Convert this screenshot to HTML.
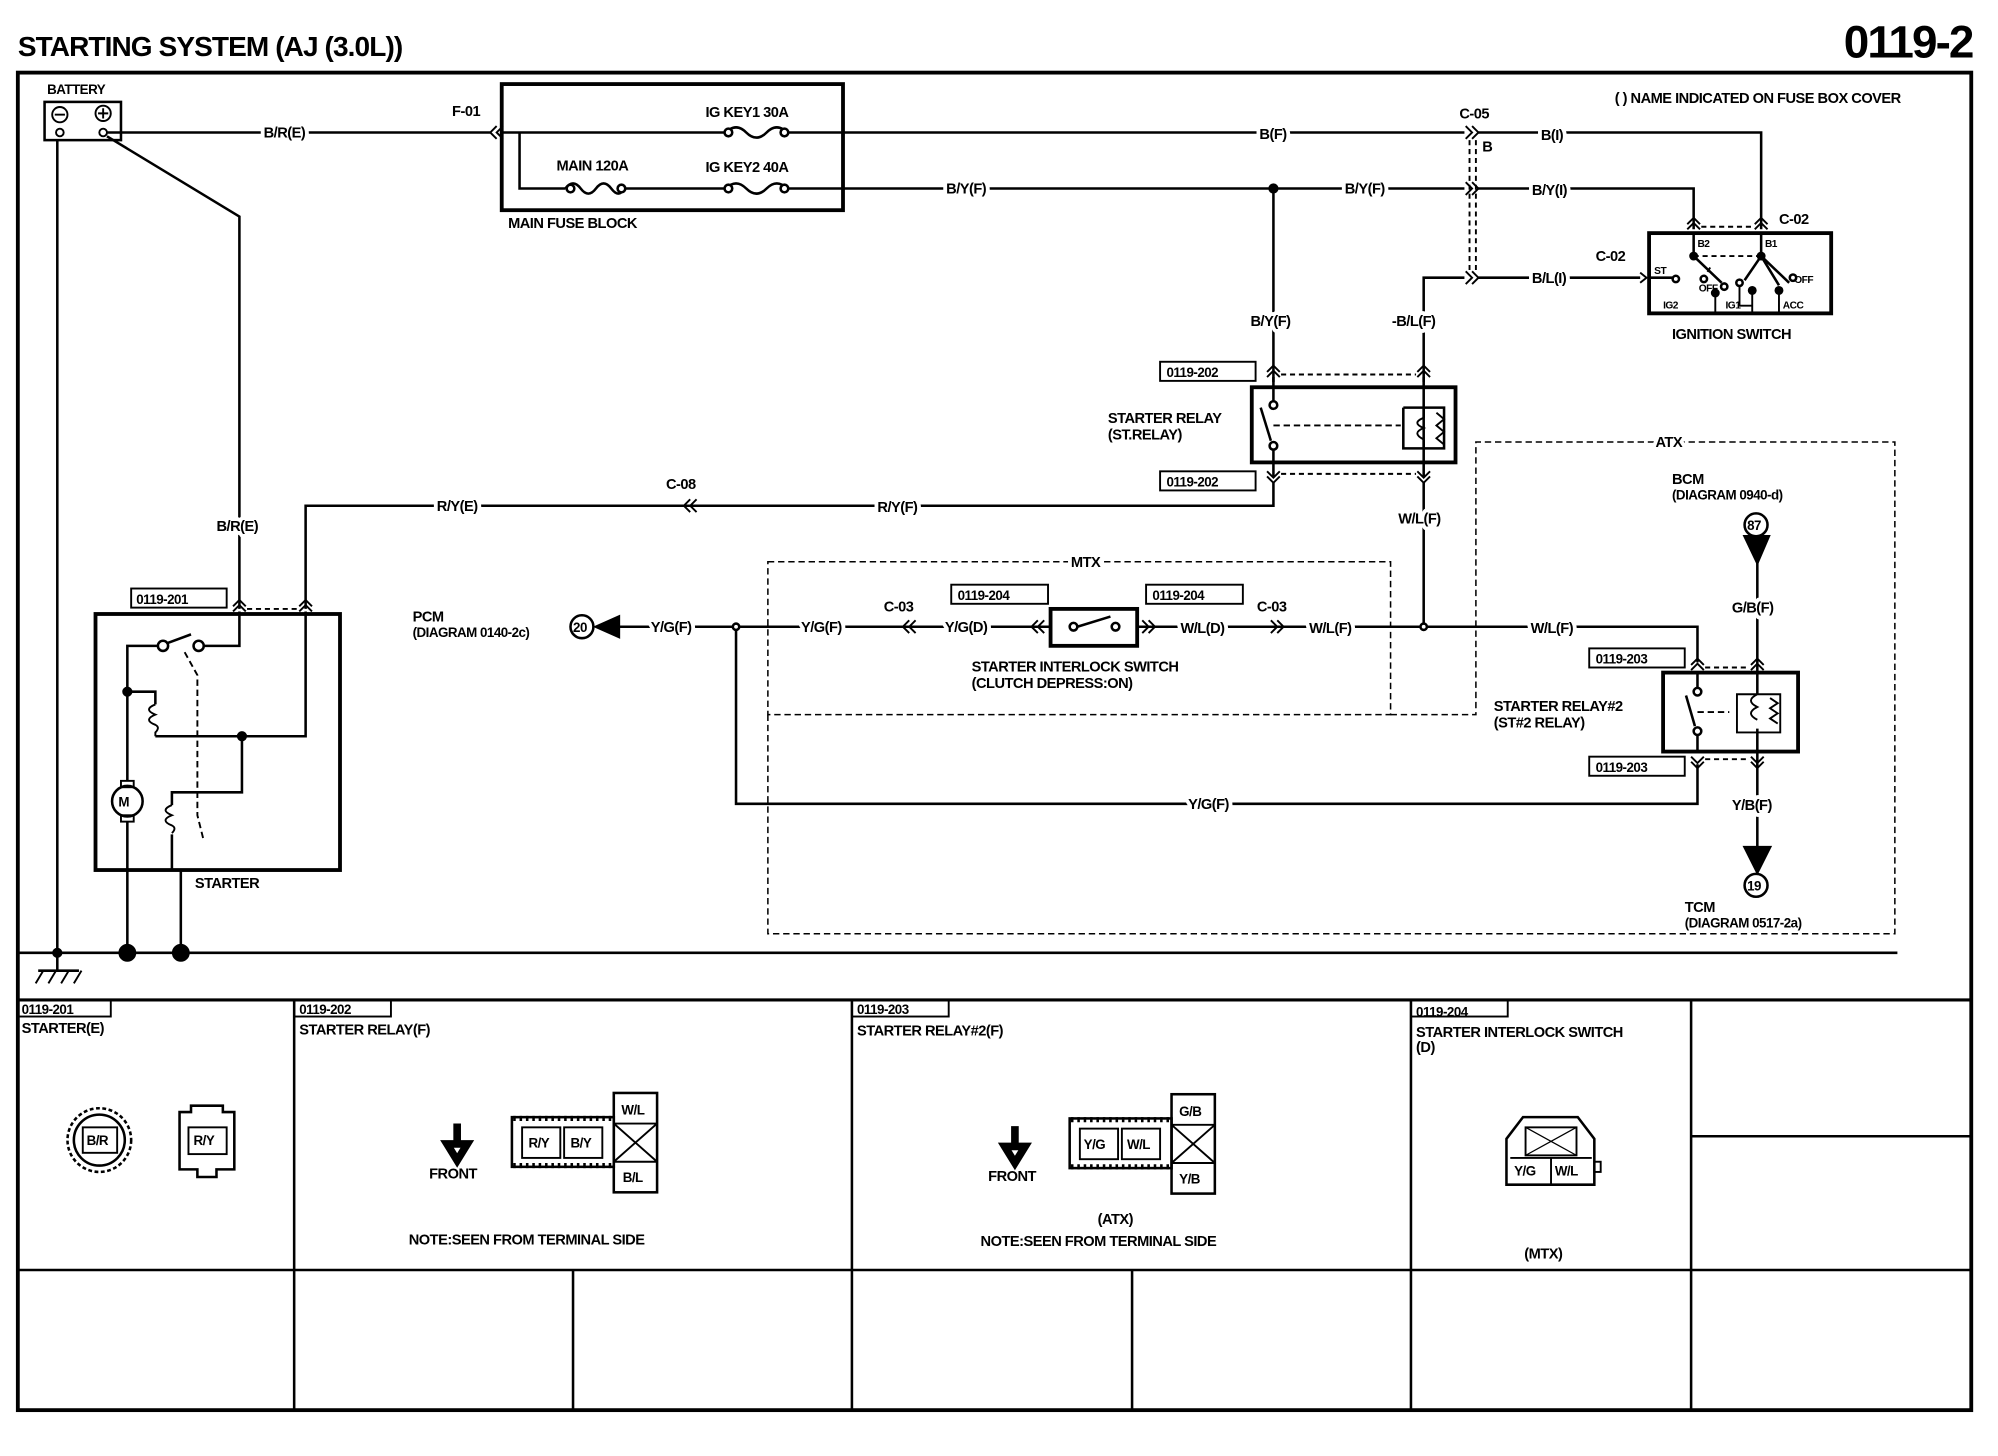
<!DOCTYPE html>
<html><head><meta charset="utf-8"><style>
html,body{margin:0;padding:0;background:#fff;}
svg{display:block}
text{font-family:"Liberation Sans",sans-serif;font-weight:bold;font-size:11.5px;fill:#000;letter-spacing:-0.4px;paint-order:stroke;stroke:#fff;stroke-width:6px;stroke-linejoin:round}
.s{font-size:10.5px;stroke:none}
.xs{font-size:8px;stroke:none}
.n{stroke:none}
</style></head><body>
<svg width="1998" height="1456" viewBox="0 0 1569 1143" preserveAspectRatio="none" xmlns="http://www.w3.org/2000/svg">
<g fill="none" stroke="#000" stroke-width="2">
<rect x="14" y="57" width="1534" height="1050" stroke-width="3"/>
<line x1="14" y1="785" x2="1548" y2="785" stroke-width="2.5"/>
<line x1="14" y1="997" x2="1548" y2="997" stroke-width="2"/>
<line x1="231" y1="785" x2="231" y2="1107"/>
<line x1="669" y1="785" x2="669" y2="1107"/>
<line x1="1108" y1="785" x2="1108" y2="1107"/>
<line x1="1328" y1="785" x2="1328" y2="997"/>
<line x1="1328" y1="892" x2="1548" y2="892"/>
<line x1="450" y1="997" x2="450" y2="1107"/>
<line x1="889" y1="997" x2="889" y2="1107"/>
<line x1="1328" y1="997" x2="1328" y2="1107"/>
<rect x="14" y="785" width="73" height="13" stroke-width="1.5"/>
<rect x="231" y="785" width="76" height="13" stroke-width="1.5"/>
<rect x="669" y="785" width="76" height="13" stroke-width="1.5"/>
<rect x="1108" y="785" width="76" height="13" stroke-width="1.5"/>

<line x1="14" y1="748" x2="1490" y2="748"/>
<line x1="45" y1="110" x2="45" y2="762"/>
<line x1="30" y1="762" x2="62" y2="762"/>
<path d="M34 762 L28 772 M44 762 L38 772 M54 762 L48 772 M64 762 L58 772" stroke-width="1.5"/>
<circle cx="45" cy="748" r="3" fill="#000"/>
<circle cx="100" cy="748" r="6" fill="#000"/>
<circle cx="142" cy="748" r="6" fill="#000"/>
<line x1="100" y1="683" x2="100" y2="748"/>
<line x1="142" y1="683" x2="142" y2="748"/>

<rect x="35" y="80" width="60" height="30"/>
<circle cx="47" cy="90" r="6" stroke-width="1.5"/>
<line x1="43" y1="90" x2="51" y2="90" stroke-width="1.5"/>
<circle cx="81" cy="89" r="6" stroke-width="1.5"/>
<path d="M77 89 H85 M81 85 V93" stroke-width="1.5"/>
<circle cx="47" cy="104" r="3" stroke-width="1.5"/>
<circle cx="81" cy="104" r="3" stroke-width="1.5"/>
<line x1="84" y1="104" x2="385" y2="104"/>
<path d="M84 107 L188 170 L188 478"/>
<path d="M390 99 L385 104 L390 109 M395 99 L390 104 L395 109" stroke-width="1.5"/>

<rect x="394" y="66" width="268" height="99" stroke-width="3"/>
<path d="M395 104 H570 M408 104 V148 H444"/>
<path d="M444 148 q6 -8 12 0 t12 0 t12 0 t10 0" stroke-width="2"/>
<circle cx="448" cy="148" r="3" fill="#fff"/><circle cx="488" cy="148" r="3" fill="#fff"/>
<path d="M490 148 H570"/>
<path d="M570 104 q8 -8 16 0 t16 0 t16 0" /><circle cx="572" cy="104" r="3" fill="#fff"/><circle cx="616" cy="104" r="3" fill="#fff"/>
<path d="M570 148 q8 -8 16 0 t16 0 t16 0" /><circle cx="572" cy="148" r="3" fill="#fff"/><circle cx="616" cy="148" r="3" fill="#fff"/>
<path d="M619 104 H1150 M619 148 H1150"/>
<circle cx="1000" cy="148" r="3" fill="#000"/>
<path d="M1000 148 V300"/>
<path d="M1151 99 L1156 104 L1151 109 M1156 99 L1161 104 L1156 109" stroke-width="1.5"/>
<path d="M1151 143 L1156 148 L1151 153 M1156 143 L1161 148 L1156 153" stroke-width="1.5"/>
<path d="M1151 213 L1156 218 L1151 223 M1156 213 L1161 218 L1156 223" stroke-width="1.5"/>
<path d="M1154 110 V212 M1159 110 V212" stroke-dasharray="4 3" stroke-width="1.5"/>
<path d="M1161 104 H1383 V180 M1161 148 H1330 V180 M1161 218 H1288 M1150 218 H1118 V300"/>
<path d="M1288 214 L1293 218 L1288 222" stroke-width="1.5"/>
<path d="M1325 176 L1330 171 L1335 176 M1325 180 L1330 175 L1335 180 M1378 176 L1383 171 L1388 176 M1378 180 L1383 175 L1388 180" stroke-width="1.5"/>
<line x1="1336" y1="178" x2="1377" y2="178" stroke-dasharray="4 3" stroke-width="1.5"/>
<rect x="1295" y="183" width="143" height="63" stroke-width="3"/>
<path d="M1330 183 V199 M1383 183 V199"/>
<circle cx="1330" cy="201" r="2.5" fill="#000"/><circle cx="1383" cy="201" r="2.5" fill="#000"/>
<path d="M1330 201 L1352 222 M1383 201 L1405 222 M1383 201 L1370 220 M1383 201 L1397 224" stroke-width="2"/>
<path d="M1330 201 H1383 M1343 210 L1338 218" stroke-dasharray="4 3" stroke-width="1.5"/>
<circle cx="1354" cy="225" r="2.5" fill="#fff"/><circle cx="1408" cy="218" r="2.5" fill="#fff"/>
<circle cx="1338" cy="219" r="2.5" fill="#fff"/><circle cx="1366" cy="222" r="2.5" fill="#fff"/>
<path d="M1296 218 H1314"/><circle cx="1316" cy="219" r="2.5" fill="#fff"/>
<path d="M1347 232 V246 M1376 225 V246 M1397 225 V246 M1366 225 V240 H1376" stroke-width="1.5"/>
<circle cx="1347" cy="230" r="2.5" fill="#000"/><circle cx="1376" cy="228" r="2.5" fill="#000"/><circle cx="1397" cy="228" r="2.5" fill="#000"/>

<path d="M995 292 L1000 287 L1005 292 M995 296 L1000 291 L1005 296 M1113 292 L1118 287 L1123 292 M1113 296 L1118 291 L1123 296" stroke-width="1.5"/>
<path d="M1006 294 H1112" stroke-dasharray="4 3" stroke-width="1.5"/>
<rect x="983" y="304" width="160" height="59" stroke-width="3"/>
<path d="M1000 296 V316 M1000 352 V374 M1118 296 V374"/>
<circle cx="1000" cy="318" r="3" fill="#fff"/><circle cx="1000" cy="350" r="3" fill="#fff"/>
<path d="M990 320 L998 346"/>
<path d="M1000 334 H1100" stroke-dasharray="5 3" stroke-width="1.5"/>
<path d="M1102 320 H1118 V328 M1118 345 V352 H1102 V320 M1118 320 H1134 V352 H1118"/>
<path d="M1118 328 q-10 4 0 8 q-10 4 0 9" stroke-width="1.5"/>
<path d="M1128 324 l6 5 l-6 5 l6 5 l-6 5 l6 5" stroke-width="1.5"/>
<path d="M995 370 L1000 375 L1005 370 M995 374 L1000 379 L1005 374 M1113 370 L1118 375 L1123 370 M1113 374 L1118 379 L1123 374" stroke-width="1.5"/>
<path d="M1006 372 H1112" stroke-dasharray="4 3" stroke-width="1.5"/>
<rect x="911" y="284" width="75" height="15" stroke-width="1.5"/>
<rect x="911" y="370" width="75" height="15" stroke-width="1.5"/>
<path d="M1000 379 V397 H240 V478 M1118 379 V493"/>
<path d="M542 392 L537 397 L542 402 M547 392 L542 397 L547 402" stroke-width="1.5"/>

<path d="M183 476 L188 471 L193 476 M183 480 L188 475 L193 480 M235 476 L240 471 L245 476 M235 480 L240 475 L245 480" stroke-width="1.5"/>
<path d="M194 478 H234" stroke-dasharray="4 3" stroke-width="1.5"/>
<rect x="75" y="482" width="192" height="201" stroke-width="3"/>
<rect x="103" y="462" width="75" height="15" stroke-width="1.5"/>
<path d="M188 480 V507 H160 M124 507 H100 V613 M100 645 V683 M240 480 V578 H190 M100 543 H122 V553 M122 578 V578 H190 M190 578 V622 H135 V632 M135 655 V683"/>
<circle cx="128" cy="507" r="4" fill="#fff"/><circle cx="156" cy="507" r="4" fill="#fff"/>
<path d="M131 505 L150 498"/>
<path d="M145 512 L155 530 V640 L160 660" stroke-dasharray="5 3" stroke-width="1.5"/>
<path d="M122 553 q-10 4 0 8 q-10 4 0 8 q4 2 0 6 V578" stroke-width="1.5"/>
<path d="M135 632 q-10 4 0 8 q-10 4 0 8 q4 2 0 6" stroke-width="1.5"/>
<circle cx="100" cy="543" r="3" fill="#000"/><circle cx="190" cy="578" r="3" fill="#000"/>
<circle cx="100" cy="629" r="12" stroke-width="2"/>
<rect x="95" y="613" width="10" height="5" stroke-width="1.5"/><rect x="95" y="640" width="10" height="5" stroke-width="1.5"/>

<rect x="603" y="441" width="489" height="120" stroke-dasharray="5 3" stroke-width="1.2"/>
<path d="M1092 561 H1159 V347 H1488 V733 H603 V561" stroke-dasharray="5 3" stroke-width="1.2"/>

<circle cx="457" cy="492" r="9"/>
<path d="M468 492 L486 484 V500 Z" fill="#000"/>
<path d="M486 492 H825 M893 492 H1333 V520"/>
<circle cx="578" cy="492" r="2.5" fill="#fff"/>
<circle cx="1118" cy="492" r="2.5" fill="#fff"/>
<path d="M578 495 V631 H1333 V600"/>
<path d="M714 487 L709 492 L714 497 M719 487 L714 492 L719 497" stroke-width="1.5"/>
<path d="M998 487 L1003 492 L998 497 M1003 487 L1008 492 L1003 497" stroke-width="1.5"/>
<path d="M815 487 L810 492 L815 497 M820 487 L815 492 L820 497 M897 487 L902 492 L897 497 M902 487 L907 492 L902 497" stroke-width="1.5"/>
<rect x="825" y="478" width="68" height="29" stroke-width="3" fill="#fff"/>
<circle cx="843" cy="492" r="3" fill="#fff"/><circle cx="876" cy="492" r="3" fill="#fff"/>
<path d="M846 492 L872 484"/>
<rect x="747" y="459" width="76" height="15" stroke-width="1.5"/>
<rect x="900" y="459" width="76" height="15" stroke-width="1.5"/>

<path d="M1328 522 L1333 517 L1338 522 M1328 526 L1333 521 L1338 526 M1375 522 L1380 517 L1385 522 M1375 526 L1380 521 L1385 526" stroke-width="1.5"/>
<path d="M1339 524 H1374" stroke-dasharray="4 3" stroke-width="1.5"/>
<rect x="1306" y="528" width="106" height="62" stroke-width="3"/>
<rect x="1248" y="509" width="75" height="15" stroke-width="1.5"/>
<rect x="1248" y="594" width="75" height="15" stroke-width="1.5"/>
<path d="M1333 528 V540 M1333 576 V590 M1380 440 V545 M1380 572 V665"/>
<circle cx="1333" cy="543" r="3" fill="#fff"/><circle cx="1333" cy="574" r="3" fill="#fff"/>
<path d="M1324 546 L1331 570"/>
<path d="M1333 559 H1358" stroke-dasharray="5 3" stroke-width="1.5"/>
<path d="M1364 545 H1398 V575 H1364 Z M1380 545 q-10 5 0 10 q-10 5 0 10" stroke-width="1.5"/>
<path d="M1390 548 l6 4 l-6 4 l6 4 l-6 4 l6 4" stroke-width="1.5"/>
<path d="M1328 594 L1333 599 L1338 594 M1328 598 L1333 603 L1338 598 M1375 594 L1380 599 L1385 594 M1375 598 L1380 603 L1385 598" stroke-width="1.5"/>
<path d="M1339 596 H1374" stroke-dasharray="4 3" stroke-width="1.5"/>
<circle cx="1379" cy="412" r="9"/>
<path d="M1370 421 H1389 L1380 442 Z" fill="#000"/>
<path d="M1370 665 H1390 L1380 685 Z" fill="#000"/>
<circle cx="1379" cy="695" r="9"/>

<circle cx="78" cy="895" r="25" stroke-dasharray="3 2" stroke-width="2"/>
<circle cx="78" cy="895" r="20" stroke-width="2"/>
<rect x="65" y="885" width="27" height="20" stroke-width="1.5"/>
<path d="M141 873 H150 V868 H175 V873 H184 V918 H170 V924 H155 V918 H141 Z" stroke-width="2"/>
<rect x="148" y="885" width="30" height="21" stroke-width="1.5"/>
<path d="M359 882 V900 M351 898 L359 911 L367 898 Z" stroke-width="6"/>
<rect x="402" y="877" width="80" height="39" stroke-width="2"/>
<rect x="410" y="885" width="30" height="24" stroke-width="1.5"/>
<rect x="443" y="885" width="30" height="24" stroke-width="1.5"/>
<rect x="482" y="858" width="34" height="78" stroke-width="2"/>
<path d="M482 882 H516 M482 912 H516 M482 882 L516 912 M516 882 L482 912" stroke-width="1.5"/>
<path d="M797 884 V902 M789 900 L797 913 L805 900 Z" stroke-width="6"/>
<rect x="840" y="878" width="80" height="39" stroke-width="2"/>
<rect x="848" y="886" width="30" height="24" stroke-width="1.5"/>
<rect x="881" y="886" width="30" height="24" stroke-width="1.5"/>
<rect x="920" y="859" width="34" height="78" stroke-width="2"/>
<path d="M920 883 H954 M920 913 H954 M920 883 L954 913 M954 883 L920 913" stroke-width="1.5"/>
<path d="M1183 894 L1196 877 H1239 L1252 894 V930 H1183 Z" stroke-width="2"/>
<rect x="1198" y="885" width="40" height="22" stroke-width="1.5"/>
<path d="M1198 885 L1238 907 M1238 885 L1198 907" stroke-width="1"/>
<path d="M1186 909 H1250 M1218 909 V930" stroke-width="1.5"/>
<rect x="1252" y="912" width="5" height="8" stroke-width="1.5"/>
</g>
<path d="M403 878 H481 M403 915 H481" stroke="#000" stroke-width="4" stroke-dasharray="2 3"/>
<path d="M841 879 H919 M841 916 H919" stroke="#000" stroke-width="4" stroke-dasharray="2 3"/>

<text x="14" y="44" class="n" style="font-size:22px;letter-spacing:-0.7px">STARTING SYSTEM (AJ (3.0L))</text>
<text x="1549" y="45" text-anchor="end" class="n" style="font-size:36px;letter-spacing:-1.5px">0119-2</text>
<text x="1268" y="81" class="n">( ) NAME INDICATED ON FUSE BOX COVER</text>
<text x="37" y="74" class="s">BATTERY</text>
<text x="207" y="108">B/R(E)</text>
<text x="355" y="91" class="n">F-01</text>
<text x="554" y="92" class="n">IG KEY1 30A</text>
<text x="437" y="134" class="n">MAIN 120A</text>
<text x="554" y="135" class="n">IG KEY2 40A</text>
<text x="399" y="179" class="n">MAIN FUSE BLOCK</text>
<text x="989" y="109">B(F)</text>
<text x="743" y="152">B/Y(F)</text>
<text x="1056" y="152">B/Y(F)</text>
<text x="1146" y="93" class="n">C-05</text>
<text x="1164" y="119" class="n">B</text>
<text x="1210" y="110">B(I)</text>
<text x="1203" y="153">B/Y(I)</text>
<text x="1203" y="222">B/L(I)</text>
<text x="1397" y="176" class="n">C-02</text>
<text x="1253" y="205" class="n">C-02</text>
<text x="1299" y="215" class="xs">ST</text>
<text x="1333" y="194" class="xs">B2</text>
<text x="1386" y="194" class="xs">B1</text>
<text x="1334" y="229" class="xs">OFF</text>
<text x="1409" y="222" class="xs">OFF</text>
<text x="1306" y="242" class="xs">IG2</text>
<text x="1355" y="242" class="xs">IG1</text>
<text x="1400" y="242" class="xs">ACC</text>
<text x="1313" y="266" class="n">IGNITION SWITCH</text>
<text x="982" y="256">B/Y(F)</text>
<text x="1093" y="256">-B/L(F)</text>
<text x="916" y="296" class="s">0119-202</text>
<text x="916" y="382" class="s">0119-202</text>
<text x="870" y="332" class="n">STARTER RELAY</text>
<text x="870" y="345" class="n">(ST.RELAY)</text>
<text x="523" y="384" class="n">C-08</text>
<text x="343" y="401">R/Y(E)</text>
<text x="689" y="402">R/Y(F)</text>
<text x="1098" y="411">W/L(F)</text>
<text x="170" y="417">B/R(E)</text>
<text x="107" y="474" class="s">0119-201</text>
<text x="93" y="633" class="s">M</text>
<text x="153" y="697" class="n">STARTER</text>
<text x="841" y="445">MTX</text>
<text x="1300" y="351">ATX</text>
<text x="324" y="488" class="n">PCM</text>
<text x="324" y="500" class="s">(DIAGRAM 0140-2c)</text>
<text x="450" y="496" class="s">20</text>
<text x="511" y="496">Y/G(F)</text>
<text x="629" y="496">Y/G(F)</text>
<text x="694" y="480" class="n">C-03</text>
<text x="742" y="496">Y/G(D)</text>
<text x="752" y="471" class="s">0119-204</text>
<text x="905" y="471" class="s">0119-204</text>
<text x="927" y="497">W/L(D)</text>
<text x="987" y="480" class="n">C-03</text>
<text x="1028" y="497">W/L(F)</text>
<text x="1202" y="497">W/L(F)</text>
<text x="763" y="527" class="n">STARTER INTERLOCK SWITCH</text>
<text x="763" y="540" class="n">(CLUTCH DEPRESS:ON)</text>
<text x="1313" y="380" class="n">BCM</text>
<text x="1313" y="392" class="s">(DIAGRAM 0940-d)</text>
<text x="1372" y="416" class="s">87</text>
<text x="1360" y="481">G/B(F)</text>
<text x="1253" y="521" class="s">0119-203</text>
<text x="1253" y="606" class="s">0119-203</text>
<text x="1173" y="558" class="n">STARTER RELAY#2</text>
<text x="1173" y="571" class="n">(ST#2 RELAY)</text>
<text x="933" y="635">Y/G(F)</text>
<text x="1360" y="636">Y/B(F)</text>
<text x="1372" y="699" class="s">19</text>
<text x="1323" y="716" class="n">TCM</text>
<text x="1323" y="728" class="s">(DIAGRAM 0517-2a)</text>
<text x="17" y="796" class="s">0119-201</text>
<text x="17" y="811" class="n">STARTER(E)</text>
<text x="235" y="796" class="s">0119-202</text>
<text x="235" y="812" class="n">STARTER RELAY(F)</text>
<text x="673" y="796" class="s">0119-203</text>
<text x="673" y="813" class="n">STARTER RELAY#2(F)</text>
<text x="1112" y="798" class="s">0119-204</text>
<text x="1112" y="814" class="n">STARTER INTERLOCK SWITCH</text>
<text x="1112" y="826" class="n">(D)</text>
<text x="68" y="899" class="s">B/R</text>
<text x="152" y="899" class="s">R/Y</text>
<text x="337" y="925" class="n">FRONT</text>
<text x="415" y="901" class="s">R/Y</text>
<text x="448" y="901" class="s">B/Y</text>
<text x="488" y="875" class="s">W/L</text>
<text x="489" y="928" class="s">B/L</text>
<text x="321" y="977" class="n">NOTE:SEEN FROM TERMINAL SIDE</text>
<text x="776" y="927" class="n">FRONT</text>
<text x="851" y="902" class="s">Y/G</text>
<text x="885" y="902" class="s">W/L</text>
<text x="926" y="876" class="s">G/B</text>
<text x="926" y="929" class="s">Y/B</text>
<text x="862" y="961" class="n">(ATX)</text>
<text x="770" y="978" class="n">NOTE:SEEN FROM TERMINAL SIDE</text>
<text x="1189" y="923" class="s">Y/G</text>
<text x="1221" y="923" class="s">W/L</text>
<text x="1197" y="988" class="n">(MTX)</text>
</svg>
</body></html>
